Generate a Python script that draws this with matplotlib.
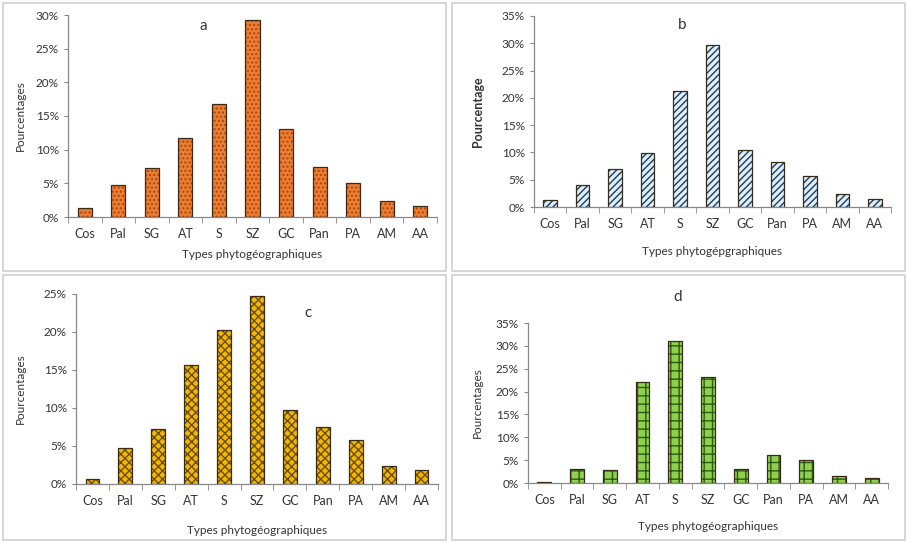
import matplotlib
matplotlib.use("Agg")
import matplotlib.pyplot as plt
from matplotlib.patches import Rectangle
from matplotlib.ticker import FuncFormatter

plt.rcParams['font.family'] = ['Lato', 'DejaVu Sans']
plt.rcParams['hatch.linewidth'] = 1.0

categories = ["Cos", "Pal", "SG", "AT", "S", "SZ", "GC", "Pan", "PA", "AM", "AA"]
values_a = [1.3, 4.8, 7.3, 11.8, 16.8, 29.3, 13.0, 7.4, 5.0, 2.4, 1.6]
values_b = [1.2, 4.1, 6.9, 9.9, 21.2, 29.6, 10.5, 8.2, 5.7, 2.3, 1.5]
values_c = [0.6, 4.8, 7.3, 15.7, 20.2, 24.8, 9.8, 7.5, 5.8, 2.4, 1.8]
values_d = [0.2, 3.1, 2.9, 22.0, 31.1, 23.1, 3.1, 6.1, 5.1, 1.5, 1.1]

W, H = 907, 542
fig = plt.figure(figsize=(W / 100, H / 100), dpi=100)
fig.patch.set_facecolor("white")

# panel frames
for (x0, y0, x1, y1) in [(3, 3, 446, 271), (452, 3, 905, 271),
                         (3, 275, 446, 540), (452, 275, 905, 540)]:
    fig.patches.append(Rectangle((x0 / W, 1 - y1 / H), (x1 - x0) / W, (y1 - y0) / H,
                                 transform=fig.transFigure, fill=False,
                                 edgecolor="#d0d0d0", linewidth=1.2))


def px_axes(x0, y0, x1, y1):
    return fig.add_axes([x0 / W, 1 - y1 / H, (x1 - x0) / W, (y1 - y0) / H])


panels = [
    dict(vals=values_a, box=(68, 15, 437, 217), ymax=30, face="#ED7D31", hc="#A8470F",
         hatch="....", ylabel="Pourcentages", xlabel="Types phytogéographiques",
         letter="a", lpos=(203, 26), xlab_y=254, ylab_x=20, ylw="normal", ylfs=8.5),
    dict(vals=values_b, box=(534, 16, 891, 207), ymax=35, face="#DDEFF6", hc="#1F3A5F",
         hatch="/////", ylabel="Pourcentage", xlabel="Types phytogépgraphiques",
         letter="b", lpos=(682, 25), xlab_y=251, ylab_x=478, ylw="bold", ylfs=9),
    dict(vals=values_c, box=(76, 294, 438, 484), ymax=25, face="#F2B705", hc="#6B4E00",
         hatch="xxxx", ylabel="Pourcentages", xlabel="Types phytogéographiques",
         letter="c", lpos=(308, 313), xlab_y=531, ylab_x=20, ylw="normal", ylfs=8.5),
    dict(vals=values_d, box=(528, 323, 888, 483), ymax=35, face="#8FD14F", hc="#2E5A12",
         hatch="++", ylabel="Pourcentages", xlabel="Types phytogéographiques",
         letter="d", lpos=(678, 297), xlab_y=527, ylab_x=477, ylw="normal", ylfs=8.5),
]

for p in panels:
    ax = px_axes(*p["box"])
    x = list(range(len(categories)))
    vals = [v / 100 for v in p["vals"]]
    ax.bar(x, vals, width=0.42, color=p["face"], edgecolor=p["hc"], hatch=p["hatch"],
           linewidth=0, zorder=2)
    ax.bar(x, vals, width=0.42, fill=False, edgecolor="#3a2a1a", linewidth=0.9, zorder=3)
    ax.set_xlim(-0.5, len(categories) - 0.5)
    ax.set_ylim(0, p["ymax"] / 100)
    ax.set_yticks([t / 100 for t in range(0, p["ymax"] + 1, 5)])
    ax.yaxis.set_major_formatter(FuncFormatter(lambda v, _: f"{round(v * 100)}%"))
    ax.set_xticks(x)
    ax.set_xticklabels(categories)
    ax.set_xticks([i - 0.5 for i in range(len(categories) + 1)], minor=True)
    ax.tick_params(axis="x", which="major", length=0, pad=8, labelsize=9, colors="#333333")
    ax.tick_params(axis="x", which="minor", length=4, direction="out", color="#888888")
    ax.tick_params(axis="y", length=3, color="#888888", labelsize=8.5, labelcolor="#333333")
    for s in ["top", "right"]:
        ax.spines[s].set_visible(False)
    for s in ["left", "bottom"]:
        ax.spines[s].set_color("#888888")
        ax.spines[s].set_linewidth(0.9)
    ax.patch.set_alpha(0)
    fig.text((p["box"][0] + p["box"][2]) / 2 / W, 1 - p["xlab_y"] / H, p["xlabel"],
             ha="center", va="center", fontsize=8.5, color="#333333")
    fig.text(p["ylab_x"] / W, 1 - (p["box"][1] + p["box"][3]) / 2 / H, p["ylabel"],
             ha="center", va="center", rotation=90, fontsize=p["ylfs"],
             fontweight=p["ylw"], color="#333333")
    fig.text(p["lpos"][0] / W, 1 - p["lpos"][1] / H, p["letter"], ha="center",
             va="center", fontsize=11, color="#333333")

fig.savefig("out.png", dpi=100)
